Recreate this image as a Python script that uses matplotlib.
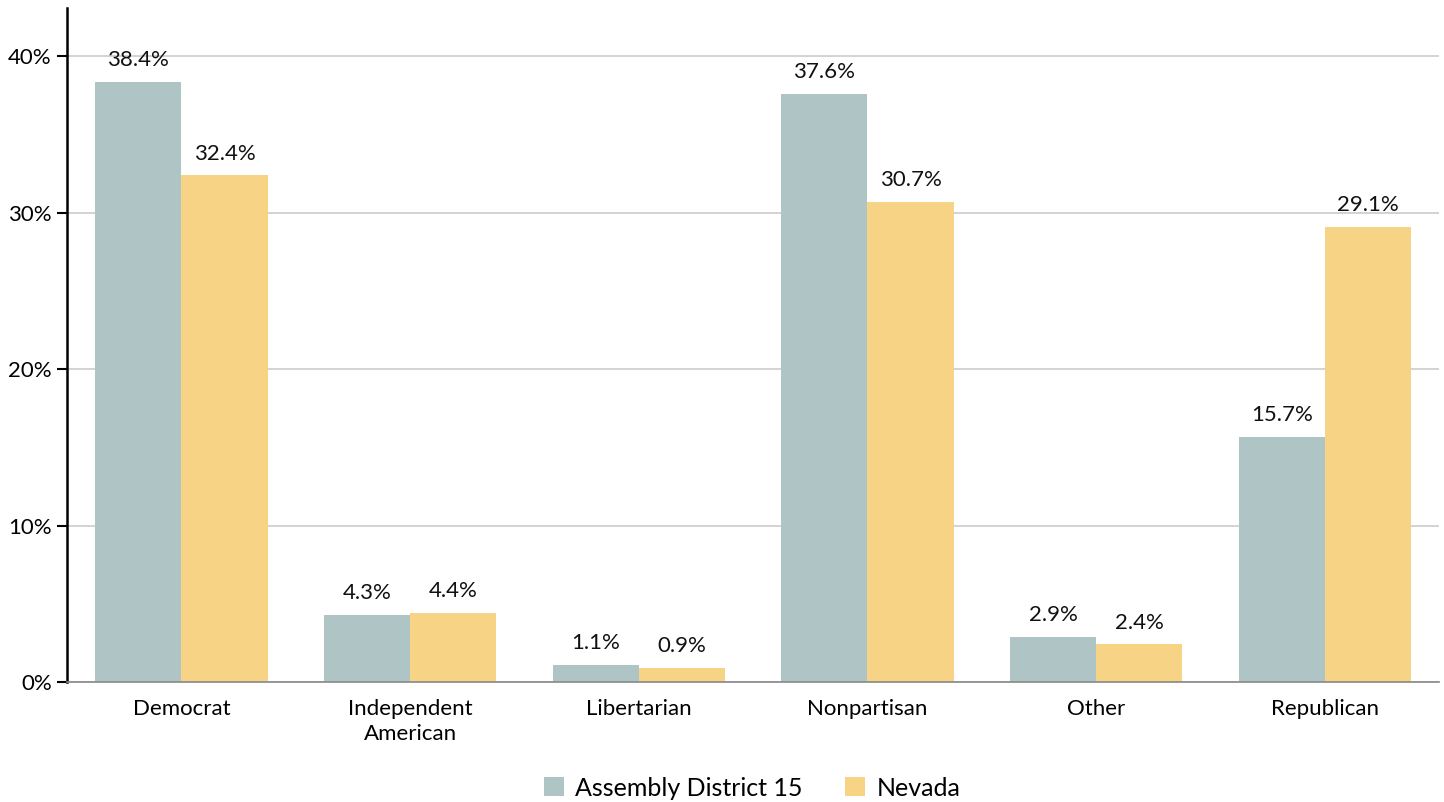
import numpy as np
import matplotlib
matplotlib.use("Agg")
import matplotlib.pyplot as plt
from matplotlib.ticker import FuncFormatter

plt.rcParams['font.family'] = ['Lato', 'DejaVu Sans']

categories = ["Democrat", "Independent\nAmerican", "Libertarian", "Nonpartisan", "Other", "Republican"]
district = [38.4, 4.3, 1.1, 37.6, 2.9, 15.7]
nevada = [32.4, 4.4, 0.9, 30.7, 2.4, 29.1]
series_names = ["Assembly District 15", "Nevada"]
colors = ["#aec4c5", "#f7d385"]

fig = plt.figure(figsize=(14.44, 8.02), dpi=100)
ax = fig.add_axes([0.0464, 0.1496, 0.9503, 0.8404])

x = np.arange(len(categories))
w = 0.377
b1 = ax.bar(x - w / 2, district, w, color=colors[0], label=series_names[0])
b2 = ax.bar(x + w / 2, nevada, w, color=colors[1], label=series_names[1])

for bars, vals in ((b1, district), (b2, nevada)):
    for rect, v in zip(bars, vals):
        ax.text(rect.get_x() + rect.get_width() / 2, v + 0.75, f"{v:.1f}%",
                ha="center", va="bottom", fontsize=16, color="#111111")

ax.set_xlim(-0.5, len(categories) - 0.5)
ax.set_ylim(0, 43.1)
ax.set_yticks([0, 10, 20, 30, 40])
ax.yaxis.set_major_formatter(FuncFormatter(lambda v, p: f"{v:.0f}%"))
ax.set_xticks(x)
ax.set_xticklabels(categories, fontsize=16, linespacing=1.35)
ax.tick_params(axis="y", labelsize=16, length=7, width=1.5, color="black", pad=4)
ax.tick_params(axis="x", length=0, pad=12)

ax.grid(axis="y", color="#cccccc", linewidth=1.2)
ax.set_axisbelow(True)
for s in ("top", "right"):
    ax.spines[s].set_visible(False)
ax.spines["left"].set_color("black")
ax.spines["left"].set_linewidth(1.8)
ax.spines["bottom"].set_color("#888888")
ax.spines["bottom"].set_linewidth(1.2)

fig.legend(handles=[b1, b2], labels=series_names, loc="lower center",
           bbox_to_anchor=(0.521, -0.025), ncol=2, frameon=False, fontsize=18,
           handlelength=0.8, handleheight=0.8, columnspacing=1.7, handletextpad=0.45)

fig.savefig("out.png", dpi=100)
